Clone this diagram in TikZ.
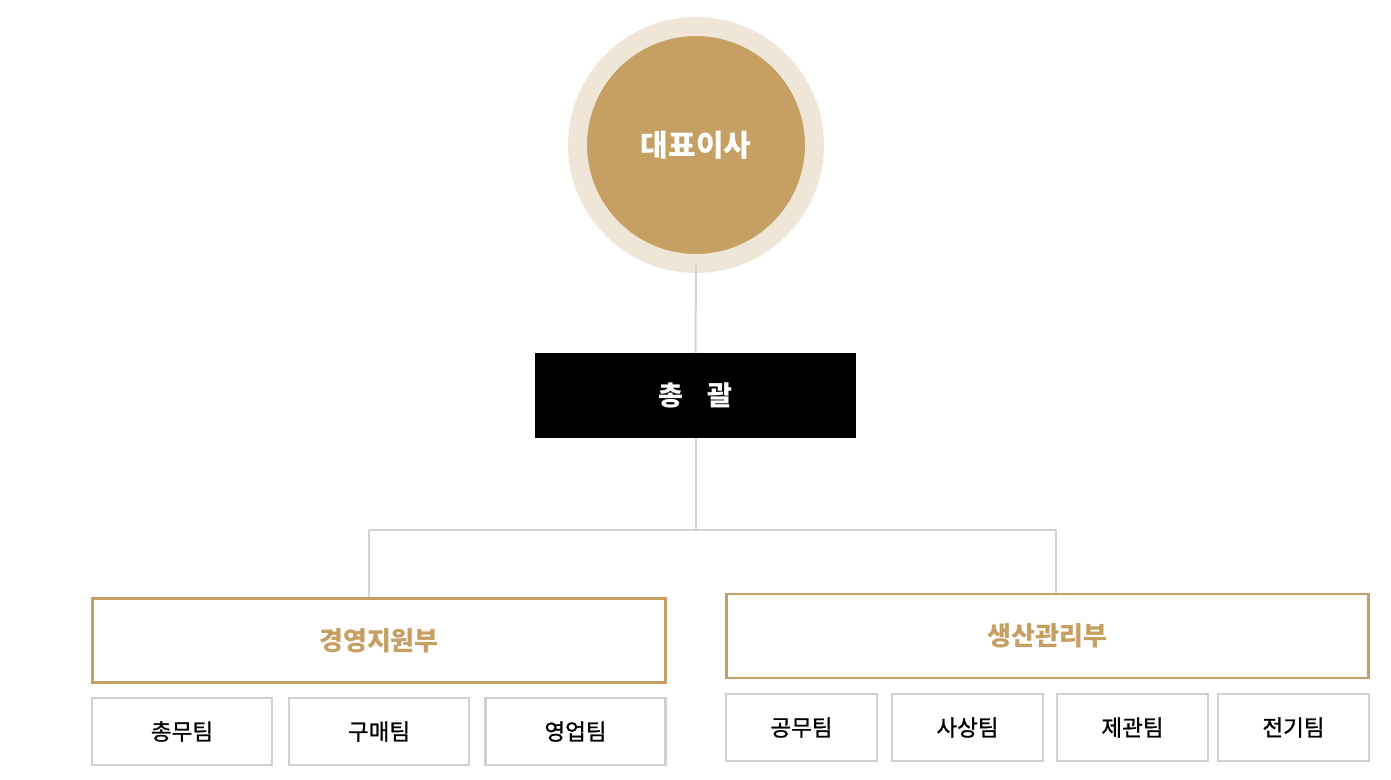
\documentclass[tikz,border=0pt]{standalone}
\usepackage{fontspec}
\setmainfont{Noto Sans CJK KR}
\usetikzlibrary{positioning}
\usetikzlibrary{calc}
\definecolor{gold}{HTML}{C69F62}
\definecolor{cream}{HTML}{F0E6D8}
\definecolor{linegray}{HTML}{D3D3D3}
\definecolor{boxgray}{HTML}{D0D0D0}
\tikzset{
	dept/.style={draw=gold,line width=2.5pt,fill=white,text=gold,inner sep=0pt,font=\fontsize{26}{30}\selectfont\bfseries},
	team/.style={draw=boxgray,line width=2.8pt,fill=white,inner sep=0pt,font=\fontsize{22.5}{26}\selectfont\addfontfeature{FakeBold=1}},
	link/.style={draw=linegray,line width=2pt}
}

\begin{document}
\begin{tikzpicture}[x=1pt,y=-1pt]
	\useasboundingbox (0,0) rectangle (1391,779);
	\draw (696,145) node (ceo) [circle,draw=cream,line width=19pt,fill=gold,outer sep=0pt,minimum size=237pt,text=white,font=\fontsize{30}{34}\selectfont\bfseries] {대표이사};
	\draw (695.5,395.5) node (hq) [rectangle,fill=black,minimum width=321pt,minimum height=85pt,inner sep=0pt,outer sep=0pt,text=white,font=\fontsize{27}{31}\selectfont\bfseries] {총\hspace{24pt}괄};
	\draw[link] (ceo.south) -- (hq.north);
	\draw (379,640.5) node (mgmt) [dept,minimum width=573pt,minimum height=84pt] {경영지원부};
	\draw (1047.5,636) node (prod) [dept,minimum width=642pt,minimum height=84pt] {생산관리부};
	% branch lines
	\coordinate (bus) at (hq.south |- 0,530);
	\coordinate (busL) at (369,530);
	\coordinate (busR) at (1056,530);
	\draw[link] (hq.south) -- (bus);
	\draw[link] (busL) -- (busR);
	\draw[link] (busL) -- (busL |- mgmt.north);
	\draw[link] (busR) -- (busR |- prod.north);
	% teams
	\foreach \x/\name/\txt in {182/t1/총무팀,379/t2/구매팀,575.5/t3/영업팀} {
		\draw (\x,731.5) node (\name) [team,minimum width=180pt,minimum height=67pt] {\txt};
	};
	\foreach \x/\name/\txt in {801.5/t4/공무팀,967.5/t5/사상팀,1132.5/t6/제관팀,1293.5/t7/전기팀} {
		\draw (\x,727.5) node (\name) [team,minimum width=151pt,minimum height=67pt] {\txt};
	};
\end{tikzpicture}
\end{document}
